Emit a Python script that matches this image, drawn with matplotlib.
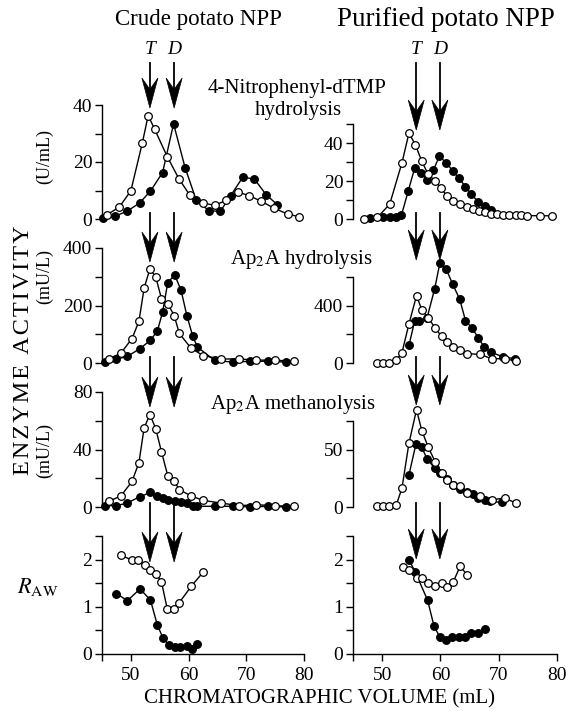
import matplotlib.pyplot as plt
from matplotlib.patches import Polygon
from matplotlib.lines import Line2D
from matplotlib.transforms import IdentityTransform

plt.rcParams['font.family'] = ['Liberation Serif', 'DejaVu Serif']
plt.rcParams['mathtext.fontset'] = 'stix'

# ---- data ----
# row 1: 4-nitrophenyl-dTMP hydrolysis (U/mL)
crude_ntp_open_x = [45.8, 48.0, 50.0, 52.0, 53.0, 54.1, 56.3, 58.3, 60.2, 62.5, 64.5, 66.5, 68.6, 70.5, 72.6, 74.8, 77.2, 79.2]
crude_ntp_open_y = [1.4, 4.2, 9.9, 26.8, 36.3, 31.6, 21.9, 14.2, 8.4, 5.6, 4.8, 6.5, 9.4, 8.2, 6.2, 3.8, 1.7, 0.8]
crude_ntp_fill_x = [45.2, 47.3, 49.4, 51.5, 53.4, 55.5, 57.4, 59.4, 61.3, 63.5, 65.5, 67.3, 69.4, 71.4, 73.5, 75.4]
crude_ntp_fill_y = [0.5, 1.0, 2.8, 5.6, 9.8, 16.3, 33.4, 18.0, 6.8, 2.9, 2.7, 8.2, 14.7, 14.0, 8.4, 5.0]
pure_ntp_open_x = [46.9, 49.2, 51.3, 53.4, 54.6, 55.7, 56.8, 57.9, 59.1, 60.1, 61.1, 62.2, 63.4, 64.6, 65.6, 66.6,
                   67.6, 68.7, 69.7, 70.8, 71.8, 72.9, 73.9, 74.9, 77.0, 79.2]
pure_ntp_open_y = [0.0, 0.9, 7.8, 29.6, 45.2, 39.1, 30.4, 23.5, 20.0, 16.2, 12.2, 9.6, 7.8, 6.1, 5.2, 4.3,
                   3.5, 2.8, 2.4, 2.3, 2.1, 1.9, 1.9, 1.8, 1.7, 1.7]
pure_ntp_fill_x = [47.9, 50.2, 51.4, 52.4, 53.3, 54.5, 55.6, 56.6, 57.7, 58.8, 59.8, 61.0, 62.1, 63.2, 64.3, 65.3, 66.5, 67.6, 68.6]
pure_ntp_fill_y = [0.5, 0.9, 1.0, 1.0, 1.9, 15.0, 27.0, 24.3, 20.5, 25.7, 33.0, 29.6, 25.4, 21.4, 17.0, 13.0, 9.0, 6.6, 4.5]

# row 2: Ap2A hydrolysis (mU/L)
crude_hyd_open_x = [46.2, 48.3, 50.2, 51.4, 52.3, 53.3, 54.3, 55.3, 56.4, 57.5, 58.4, 60.4, 62.5, 65.6, 68.7, 71.7, 74.9, 78.2]
crude_hyd_open_y = [14, 35, 85, 145, 261, 327, 300, 224, 206, 165, 103, 52, 26, 14, 14, 10, 10, 6]
crude_hyd_fill_x = [45.6, 47.5, 49.4, 51.5, 53.4, 54.6, 55.5, 56.4, 57.6, 58.7, 59.7, 60.7, 61.5, 64.5, 67.7, 70.7, 73.8, 76.8]
crude_hyd_fill_y = [3, 13, 23, 49, 79, 112, 177, 280, 306, 253, 165, 95, 56, 9, 3, 6, 6, 3]
pure_hyd_open_x = [49.1, 50.1, 51.2, 52.4, 53.4, 54.6, 55.9, 56.8, 57.9, 59.1, 60.2, 61.1, 62.2, 63.3, 64.6, 66.8, 68.8, 71.0, 73.0]
pure_hyd_open_y = [2, 2, 2, 18, 72, 273, 469, 372, 314, 245, 185, 150, 111, 92, 65, 60, 30, 30, 14]
pure_hyd_fill_x = [54.6, 55.6, 56.4, 57.7, 59.0, 59.9, 61.0, 62.1, 63.3, 64.3, 65.4, 66.5, 67.5, 68.6, 70.8, 72.8]
pure_hyd_fill_y = [123, 296, 291, 314, 516, 696, 654, 550, 446, 296, 245, 176, 111, 76, 42, 30]

# row 3: Ap2A methanolysis (mU/L)
crude_met_open_x = crude_hyd_open_x
crude_met_open_y = [3.9, 7.8, 17.8, 30.9, 55.1, 64.3, 54.6, 38.5, 21.7, 18.2, 12.0, 7.8, 4.6, 2.8, 0.9, 1.6, 0.9, 0.5]
crude_met_fill_x = crude_hyd_fill_x
crude_met_fill_y = [0.9, 0.9, 2.8, 7.1, 10.1, 7.4, 6.0, 4.6, 3.9, 3.5, 2.8, 0.5, 0.5, 0.5, 0.5, 0.0, 0.5, 0.0]
pure_met_open_x = pure_hyd_open_x
pure_met_open_y = [0.6, 0.6, 0.6, 1.4, 16.4, 55.7, 84.8, 66.7, 52.3, 39.4, 29.3, 23.6, 19.3, 18.7, 12.1, 9.8, 6.3, 7.8, 3.4]
pure_met_fill_x = [54.6, 55.8, 56.8, 57.7, 59.0, 60.0, 61.1, 62.2, 63.3, 64.5, 65.6, 66.5, 67.6, 68.5, 70.5]
pure_met_fill_y = [28, 55, 52, 42, 34, 30, 24, 19, 16, 13, 11, 8, 6, 5, 4]

# row 4: R_AW
crude_raw_open_x = [48.3, 50.2, 51.3, 52.4, 53.4, 54.4, 55.3, 56.3, 57.4, 58.4, 60.5, 62.5]
crude_raw_open_y = [2.09, 1.99, 1.99, 1.88, 1.77, 1.69, 1.53, 0.96, 0.96, 1.09, 1.44, 1.73]
crude_raw_fill_x = [47.5, 49.4, 51.6, 53.4, 54.6, 55.6, 56.6, 57.6, 58.6, 59.7, 60.6, 61.5]
crude_raw_fill_y = [1.28, 1.13, 1.38, 1.14, 0.61, 0.33, 0.19, 0.14, 0.15, 0.17, 0.10, 0.21]
pure_raw_open_x = [53.6, 54.6, 55.9, 56.9, 57.9, 59.1, 60.2, 61.1, 62.2, 63.4, 64.6]
pure_raw_open_y = [1.84, 1.77, 1.61, 1.60, 1.50, 1.45, 1.50, 1.42, 1.53, 1.86, 1.67]
pure_raw_fill_x = [54.6, 55.7, 57.8, 58.9, 59.9, 61.0, 62.0, 63.2, 64.3, 65.3, 66.5, 67.6]
pure_raw_fill_y = [2.00, 1.73, 1.14, 0.59, 0.36, 0.30, 0.35, 0.36, 0.36, 0.45, 0.45, 0.52]

crude_T, crude_D = 53.3, 57.5
pure_T, pure_D = 55.85, 59.9

W, H = 569, 711
fig = plt.figure(figsize=(W / 100, H / 100), dpi=100)
TICK_FS = 14


def px_axes(x0, x1, y_zero, y_top):
    # rect from image pixel positions (y measured from top)
    return fig.add_axes([x0 / W, 1 - y_zero / H, (x1 - x0) / W, (y_zero - y_top) / H])


def style(ax, ymax, major, minor, bottom=False):
    ax.set_xlim(45, 80)
    ax.set_ylim(0, ymax)
    ax.patch.set_visible(False)
    for s in ['top', 'right']:
        ax.spines[s].set_visible(False)
    ax.spines['left'].set_linewidth(1.0)
    ax.set_yticks(major)
    ax.set_yticks(minor, minor=True)
    ax.tick_params(axis='y', which='both', direction='out', length=5, width=1, labelsize=TICK_FS, pad=2)
    if bottom:
        ax.spines['bottom'].set_linewidth(1.0)
        ax.set_xticks([50, 60, 70, 80])
        ax.set_xticks([45], minor=True)
        ax.tick_params(axis='x', which='both', direction='out', length=5, width=1, labelsize=TICK_FS, pad=4)
    else:
        ax.spines['bottom'].set_visible(False)
        ax.set_xticks([])


def series(ax, x, y, filled):
    ax.plot(x, y, color='black', lw=1.0, marker='o', ms=5.5, mew=0.9,
            mfc='black' if filled else 'white', mec='black', clip_on=False,
            zorder=3 if filled else 4)


LX0, LX1 = 102, 304
RX0, RX1 = 353, 557

panels = [
    # (x0, x1, y0, ytop, ymax, major, minor, open, filled, bottom)
    (LX0, LX1, 219, 105, 40, [0, 20, 40], [10, 30], (crude_ntp_open_x, crude_ntp_open_y), (crude_ntp_fill_x, crude_ntp_fill_y), False),
    (RX0, RX1, 219, 124, 50, [0, 20, 40], [10, 30, 50], (pure_ntp_open_x, pure_ntp_open_y), (pure_ntp_fill_x, pure_ntp_fill_y), False),
    (LX0, LX1, 363, 248, 400, [0, 200, 400], [100, 300], (crude_hyd_open_x, crude_hyd_open_y), (crude_hyd_fill_x, crude_hyd_fill_y), False),
    (RX0, RX1, 363, 277, 600, [0, 400], [200, 600], (pure_hyd_open_x, pure_hyd_open_y), (pure_hyd_fill_x, pure_hyd_fill_y), False),
    (LX0, LX1, 507, 392, 80, [0, 40, 80], [20, 60], (crude_met_open_x, crude_met_open_y), (crude_met_fill_x, crude_met_fill_y), False),
    (RX0, RX1, 507, 421, 75, [0, 50], [25, 75], (pure_met_open_x, pure_met_open_y), (pure_met_fill_x, pure_met_fill_y), False),
    (LX0, LX1, 654, 536, 2.5, [0, 1, 2], [0.5, 1.5, 2.5], (crude_raw_open_x, crude_raw_open_y), (crude_raw_fill_x, crude_raw_fill_y), True),
    (RX0, RX1, 654, 536, 2.5, [0, 1, 2], [0.5, 1.5, 2.5], (pure_raw_open_x, pure_raw_open_y), (pure_raw_fill_x, pure_raw_fill_y), True),
]

axes = []
for x0, x1, y0, yt, ymax, major, minor, op, fl, bottom in panels:
    ax = px_axes(x0, x1, y0, yt)
    style(ax, ymax, major, minor, bottom)
    series(ax, fl[0], fl[1], True)
    series(ax, op[0], op[1], False)
    axes.append(ax)


def arrow(ax, xval, y_start, y_tip, head_len=30, head_w=16):
    # shaft + stealth-style head, in image pixels (y from top)
    xp = ax.transData.transform((xval, 0))[0]
    ys, yt = H - y_start, H - y_tip
    fig.add_artist(Line2D([xp, xp], [ys, yt + head_len * 0.6], color='black', lw=1.3,
                          transform=IdentityTransform()))
    head = Polygon([(xp, yt), (xp - head_w / 2, yt + head_len), (xp, yt + head_len * 0.62),
                    (xp + head_w / 2, yt + head_len)], closed=True, facecolor='black',
                   edgecolor='black', lw=0.5, transform=IdentityTransform())
    fig.add_artist(head)


# arrow extents per row: (shaft top, tip) for left and right columns
arrow_rows = [((63, 108), (63, 130)), ((213, 262), (213, 260)), ((357, 407), (357, 405)), ((503, 562), (503, 559))]
for r, (lft, rgt) in enumerate(arrow_rows):
    axl, axr = axes[2 * r], axes[2 * r + 1]
    for xv in (crude_T, crude_D):
        arrow(axl, xv, *lft)
    for xv in (pure_T, pure_D):
        arrow(axr, xv, *rgt)

# T / D labels
for ax, xt, xd in ((axes[0], crude_T, crude_D), (axes[1], pure_T, pure_D)):
    for xv, lab in ((xt, 'T'), (xd, 'D')):
        xp = ax.transData.transform((xv, 0))[0]
        fig.text(xp / W, 1 - 50 / H, lab, ha='center', va='center', fontsize=14, style='italic')

# column titles
fig.text(198 / W, 1 - 20 / H, 'Crude potato NPP', ha='center', va='center', fontsize=16.5)
fig.text(446 / W, 1 - 20 / H, 'Purified potato NPP', ha='center', va='center', fontsize=19.5)

# panel labels
fig.text(297 / W, 1 - 89 / H, '4-Nitrophenyl-dTMP', ha='center', va='center', fontsize=15)
fig.text(298 / W, 1 - 111 / H, 'hydrolysis', ha='center', va='center', fontsize=15)
fig.text(301 / W, 1 - 259 / H, 'Ap$_2$A hydrolysis', ha='center', va='center', fontsize=15)
fig.text(293 / W, 1 - 404 / H, 'Ap$_2$A methanolysis', ha='center', va='center', fontsize=15)

# y labels
fig.text(24 / W, 1 - 350 / H, '\u200a'.join('ENZYME ACTIVITY'), rotation=90, ha='center', va='center', fontsize=17.5)
fig.text(45 / W, 1 - 157 / H, '(U/mL)', rotation=90, ha='center', va='center', fontsize=13)
fig.text(45 / W, 1 - 277 / H, '(mU/L)', rotation=90, ha='center', va='center', fontsize=13)
fig.text(45 / W, 1 - 450 / H, '(mU/L)', rotation=90, ha='center', va='center', fontsize=13)
fig.text(38 / W, 1 - 587 / H, '$R_{\\mathrm{AW}}$', ha='center', va='center', fontsize=16)

fig.text(320 / W, 1 - 699 / H, 'CHROMATOGRAPHIC VOLUME (mL)', ha='center', va='center', fontsize=15)

fig.savefig('out.png', dpi=100)
